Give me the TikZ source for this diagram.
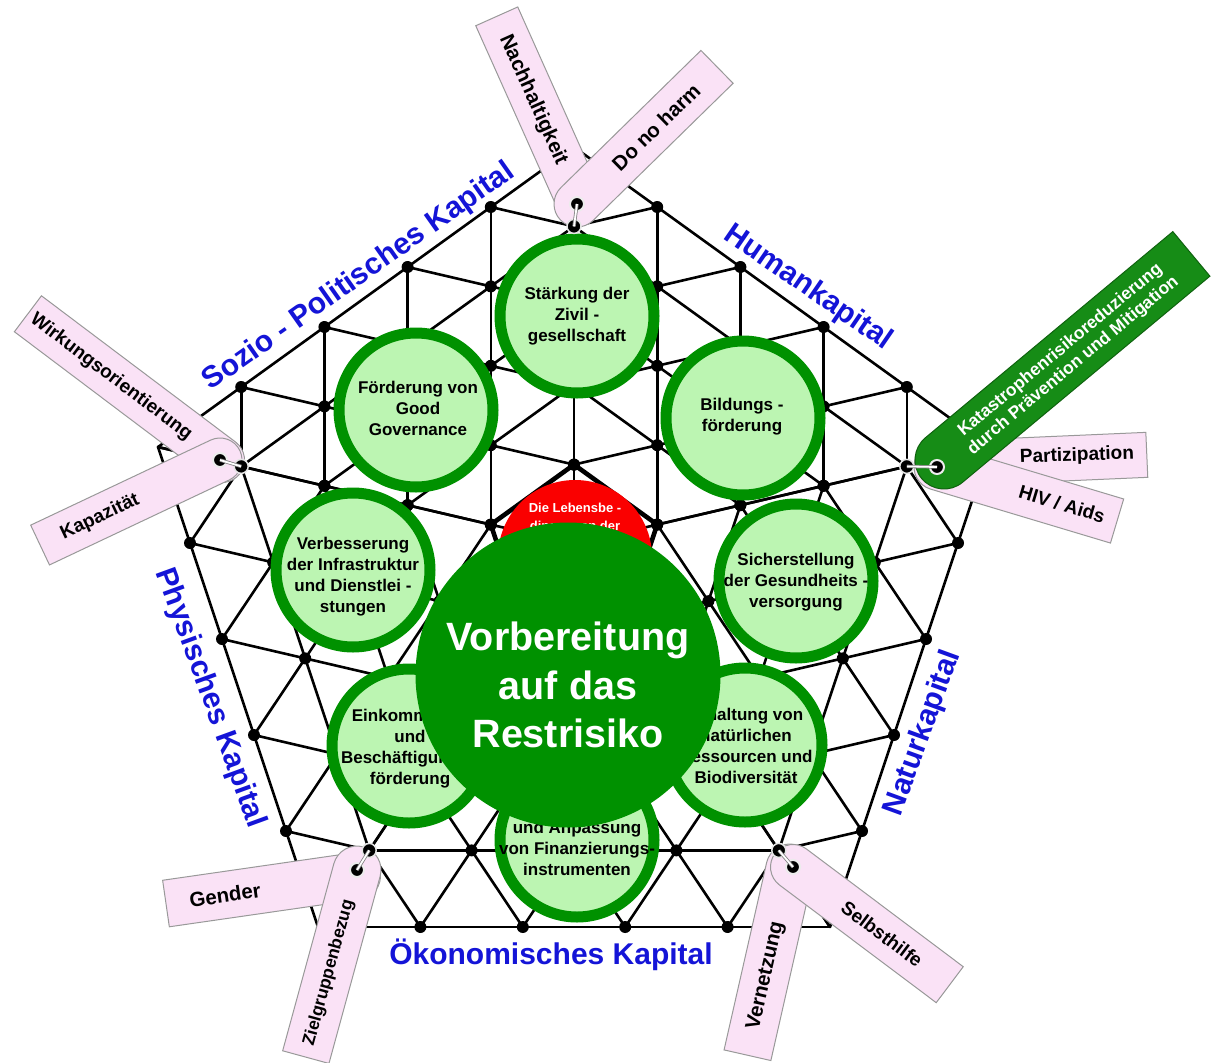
\documentclass[tikz,border=0pt]{standalone}
\usepackage{fontspec}
\setmainfont{Liberation Sans}
\usetikzlibrary{calc}

\definecolor{netgreen}{RGB}{0,145,0}
\definecolor{palegreen}{RGB}{188,245,178}
\definecolor{tagpink}{RGB}{250,226,246}
\definecolor{taggreen}{RGB}{22,140,22}
\definecolor{capblue}{RGB}{20,20,215}
\definecolor{corered}{RGB}{250,0,0}

\tikzset{
  meshline/.style={line width=2.6pt, black, line cap=round},
  coreline/.style={line width=4.6pt, black, line join=round},
  aim/.style={circle, draw=netgreen, line width=11pt, fill=palegreen, minimum size=154pt, inner sep=0pt},
  aimtext/.style={align=center, inner sep=0pt, font=\fontsize{17}{21}\selectfont\bfseries},
  core/.style={circle, fill=corered, minimum size=154pt, inner sep=0pt},
  capital/.style={text=capblue, inner sep=0pt, font=\fontsize{30}{34}\selectfont\bfseries},
  tagbody/.style={fill=tagpink, draw=black!40, line width=1pt},
  greenbody/.style={fill=taggreen, draw=black!30!taggreen, line width=1pt},
  tagtext/.style={inner sep=0pt, font=\fontsize{19}{21}\selectfont\bfseries},
  hole/.style={circle, fill=black, draw=white!85!gray, line width=2pt, inner sep=0pt, minimum size=14pt},
  ringwire/.style={draw=gray, double=white, double distance=1.8pt, line width=0.8pt},
  hook/.style={circle, fill=black, draw=white!80!gray, line width=1.5pt, inner sep=0pt, minimum size=14pt}
}

% tag with its round end at the hole: hole, angle, length, width
\newcommand{\hangtag}[5][tagbody]{%
  \begin{scope}[shift={#2}, rotate=#3]
    \filldraw[#1] (0,-#5/2) -- (#4,-#5/2) -- (#4,#5/2) -- (0,#5/2)
      arc[start angle=90, end angle=270, radius=#5/2] -- cycle;
  \end{scope}}

\begin{document}
\begin{tikzpicture}[x=1pt, y=-1pt]

  \useasboundingbox (0,0) rectangle (1211,1063);

  % web: five triangular sectors round the centre
  \coordinate (C) at (574,544);
  \foreach \ux/\uy/\vx/\vy [count=\s] in {0/-397/-416/-97, -416/-97/-256/383,
      -256/383/256/383, 256/383/416/-97, 416/-97/0/-397}{
    \foreach \k in {1,...,5}{
      \foreach \b in {0,...,\k}{
        \pgfmathsetmacro\px{574+((\k-\b)*(\ux)+\b*(\vx))/5}
        \pgfmathsetmacro\py{544+((\k-\b)*(\uy)+\b*(\vy))/5}
        \coordinate (p-\s-\k-\b) at (\px,\py);
      }
    }
  }

  \foreach \s in {1,...,5}{
    \draw[meshline] (C) -- (p-\s-1-0);
    \foreach \k in {1,...,5}{
      \foreach \b in {1,...,\k}{
        \pgfmathtruncatemacro\bp{\b-1}
        \draw[meshline] (p-\s-\k-\bp) -- (p-\s-\k-\b);
      }
    }
    \foreach \k in {1,...,4}{
      \pgfmathtruncatemacro\kk{\k+1}
      \foreach \b in {0,...,\k}{
        \pgfmathtruncatemacro\bb{\b+1}
        \draw[meshline] (p-\s-\k-\b) -- (p-\s-\kk-\b);
        \draw[meshline] (p-\s-\k-\b) -- (p-\s-\kk-\bb);
      }
    }
  }
  \draw[coreline] (p-1-1-0) -- (p-2-1-0) -- (p-3-1-0) -- (p-4-1-0) -- (p-5-1-0) -- cycle;

  \foreach \s in {1,...,5}{
    \foreach \k in {1,...,4}{
      \foreach \b in {0,...,\k}{
        \fill (p-\s-\k-\b) circle[radius=6];
      }
    }
    \foreach \b in {1,...,4}{
      \fill (p-\s-5-\b) circle[radius=6];
    }
  }

  % fields of action
  \node[core] (lebens) at (575,557) {};
  \node[aimtext, text=white, font=\fontsize{13}{18}\selectfont\bfseries] (lebenstext) at (575,518) {Die Lebensbe -\\dingungen der};

  \node[aim] (staerkung) at (577,316) {};
  \node[aimtext] (staerkungtext) at (staerkung) {Stärkung der\\Zivil -\\gesellschaft};
  \node[aim] (governance) at (416,410) {};
  \node[aimtext] (governancetext) at (418,408) {Förderung von\\Good\\Governance};
  \node[aim] (bildung) at (743,418) {};
  \node[aimtext] (bildungtext) at (742,417) {Bildungs -\\förderung};
  \node[aim] (infra) at (353,570) {};
  \node[aimtext] (infratext) at (353,577) {Verbesserung\\der Infrastruktur\\und Dienstlei -\\stungen};
  \node[aim] (gesundheit) at (796,581) {};
  \node[aimtext] (gesundheittext) at (796,582) {Sicherstellung\\der Gesundheits -\\versorgung};
  \node[aim] (einkommen) at (409,746) {};
  \node[aimtext] (einkommentext) at (410,749) {Einkommens -\\und\\Beschäftigungs -\\förderung};
  \node[aim] (erhaltung) at (745,745) {};
  \node[aimtext] (erhaltungtext) at (746,746) {Erhaltung von\\natürlichen\\Ressourcen und\\Biodiversität};
  \node[aim] (finanz) at (577,840) {};
  \node[aimtext] (finanztext) at (577,848) {und Anpassung\\von Finanzierungs-\\instrumenten};

  \node[circle, fill=netgreen, minimum size=305pt, inner sep=0pt] (restrisiko) at (568,675) {};
  \node[aimtext, text=white, font=\fontsize{39.5}{48.5}\selectfont\bfseries] (restrisikotext) at (568,685) {Vorbereitung\\auf das\\Restrisiko};

  % the five capitals
  \node[capital, rotate=35.2] (sozio) at (359,277) {Sozio - Politisches Kapital};
  \node[capital, rotate=-34.5] (human) at (808,288) {Humankapital};
  \node[capital, rotate=-70] (physisch) at (210,698) {Physisches Kapital};
  \node[capital, rotate=70] (natur) at (923,733) {Naturkapital};
  \node[capital] (oekonom) at (551,955) {Ökonomisches Kapital};

  % tags on the top knot
  \hangtag{(578,198)}{114.1}{199}{46}
  \node[tagtext, rotate=-65.9, font=\fontsize{20.5}{22}\selectfont\bfseries] (nachhaltig) at (533,100) {Nachhaltigkeit};
  \hangtag{(577,204)}{44.4}{196}{46}
  \node[tagtext, rotate=44.4, font=\fontsize{20.5}{22}\selectfont\bfseries] (donoharm) at (656,127) {Do no harm};

  % tags on the left knot
  \hangtag{(222,460)}{143.0}{243}{45}
  \node[tagtext, rotate=-37] (wirkung) at (111,377) {Wirkungsorientierung};
  \hangtag{(220,460)}{-154.7}{199}{44}
  \node[tagtext, rotate=25.3] (kapazitaet) at (100,517) {Kapazität};

  % tags on the right knot
  \hangtag{(937,464)}{2.5}{210}{45}
  \node[tagtext, rotate=2] (partizipation) at (1077,456) {Partizipation};
  \hangtag{(937,467)}{-16.7}{188}{46}
  \node[tagtext, rotate=-16.7] (hiv) at (1062,504) {HIV / Aids};
  \hangtag[greenbody]{(944,460)}{39.8}{322}{58}
  \node[tagtext, text=white, align=center, rotate=39.8, font=\fontsize{17.5}{20}\selectfont\bfseries] (katastrophe) at (1067,358) {Katastrophenrisikoreduzierung\\durch Prävention und Mitigation};

  % tags on the lower left knot
  \hangtag{(357,876)}{-171.8}{193}{47}
  \node[tagtext, rotate=8.2, font=\fontsize{20.5}{22}\selectfont\bfseries] (gender) at (225,895) {Gender};
  \hangtag{(357,870)}{-105.3}{194}{48}
  \node[tagtext, rotate=74.7, font=\fontsize{17.5}{20}\selectfont\bfseries] (zielgruppe) at (329,973) {Zielgruppenbezug};

  % tags on the lower right knot
  \hangtag{(790,868)}{-102.8}{192}{48}
  \node[tagtext, rotate=77.2, font=\fontsize{20.5}{22}\selectfont\bfseries] (vernetzung) at (766,976) {Vernetzung};
  \hangtag{(793,867)}{-36.9}{196}{45}
  \node[tagtext, rotate=-36.9] (selbsthilfe) at (882,934) {Selbsthilfe};

  % holes, rings and the knots they hang on
  \node[hook] (hooktop) at (p-1-4-0) {};
  \node[hook] (hookleft) at (p-2-4-0) {};
  \node[hook] (hookdownleft) at (p-3-4-0) {};
  \node[hook] (hookdownright) at (p-4-4-0) {};
  \node[hook] (hookright) at (p-5-4-0) {};

  \node[hole] (holetop) at (577,204) {};
  \node[hole] (holeleft) at (220,460) {};
  \node[hole] (holeright) at (937,467) {};
  \node[hole] (holedownleft) at (357,870) {};
  \node[hole] (holedownright) at (793,867) {};

  \draw[ringwire] (holetop.center) -- (hooktop.center);
  \draw[ringwire] (holeleft.center) -- (hookleft.center);
  \draw[ringwire] (holeright.center) -- (hookright.center);
  \draw[ringwire] (holedownleft.center) -- (hookdownleft.center);
  \draw[ringwire] (holedownright.center) -- (hookdownright.center);

\end{tikzpicture}
\end{document}
